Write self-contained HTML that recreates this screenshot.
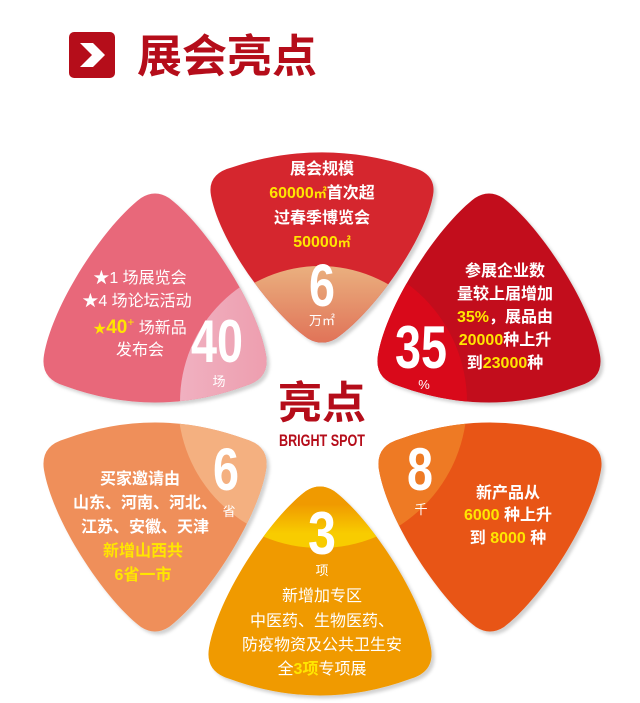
<!DOCTYPE html>
<html><head><meta charset="utf-8">
<style>
html,body{margin:0;padding:0;background:#fff;}
svg{display:block;}
text{font-family:"Liberation Sans","Noto Sans CJK SC",sans-serif;text-anchor:middle;fill:#fff;}
.t{font-size:16px;font-weight:bold;}
.y{fill:#ffe600;}
.big{font-family:"Liberation Sans Narrow","Liberation Sans",sans-serif;font-weight:bold;font-size:60px;}
.u{font-size:13px;}
</style></head>
<body>
<svg width="640" height="703" viewBox="0 0 640 703" xmlns="http://www.w3.org/2000/svg">
<defs>
<path id="p" d="M -14,5 Q 0,-4 14,5 C 50,32 102,110 111,162 Q 115,186 90,193 Q 0,226 -90,193 Q -115,186 -111,162 C -102,110 -50,32 -14,5 Z"/>
<clipPath id="c1"><use href="#p" transform="translate(322,343) scale(1,-0.91)"/></clipPath>
<clipPath id="c2"><use href="#p" transform="translate(155,193)"/></clipPath>
<clipPath id="c3"><use href="#p" transform="translate(489,193)"/></clipPath>
<clipPath id="c4"><use href="#p" transform="translate(155,632) scale(1,-1)"/></clipPath>
<clipPath id="c5"><use href="#p" transform="translate(490,632) scale(1,-1)"/></clipPath>
<clipPath id="c6"><use href="#p" transform="translate(320,486)"/></clipPath>
<linearGradient id="g1" x1="0" y1="0" x2="0" y2="1"><stop offset="0" stop-color="#eab07f"/><stop offset="0.5" stop-color="#d9443a"/><stop offset="1" stop-color="#d5252f"/></linearGradient>
<linearGradient id="g2" x1="0" y1="0" x2="1" y2="0"><stop offset="0" stop-color="#f0b0c0"/><stop offset="1" stop-color="#e8788a"/></linearGradient>
<linearGradient id="g6" x1="0" y1="0" x2="0" y2="1"><stop offset="0.85" stop-color="#f09a00"/><stop offset="0.95" stop-color="#f8cc00"/></linearGradient>
<filter id="sh" x="-10%" y="-10%" width="130%" height="130%"><feDropShadow dx="3" dy="3" stdDeviation="1.5" flood-color="#000" flood-opacity="0.18"/></filter>
</defs>

<!-- header -->
<rect x="69" y="32" width="46" height="46" rx="5" fill="#b50d1a"/>
<path d="M80,43 L93,43 L105,55 L93,67 L80,67 L92,55 Z" fill="#fff"/>
<text x="227" y="72" style="font-size:45px;font-weight:bold;fill:#b50d1a;">展会亮点</text>

<!-- petals -->
<g filter="url(#sh)">
<use href="#p" transform="translate(322,343) scale(1,-0.91)" fill="#d5252f"/>
<use href="#p" transform="translate(155,193)" fill="#e8687a"/>
<use href="#p" transform="translate(489,193)" fill="#c20f1c"/>
<use href="#p" transform="translate(155,632) scale(1,-1)" fill="#ef8f5a"/>
<use href="#p" transform="translate(490,632) scale(1,-1)" fill="#e85516"/>
<use href="#p" transform="translate(320,486)" fill="#f09a00"/>
</g>
<g clip-path="url(#c1)"><circle cx="320" cy="402" r="136" fill="url(#g1)"/></g>
<g clip-path="url(#c2)"><circle cx="320" cy="402" r="140" fill="url(#g2)"/></g>
<g clip-path="url(#c3)"><circle cx="320" cy="402" r="147" fill="#d9091a"/></g>
<g clip-path="url(#c4)"><circle cx="320" cy="402" r="142" fill="#f4b080"/></g>
<g clip-path="url(#c5)"><circle cx="320" cy="402" r="147" fill="#ee7a24"/></g>
<g clip-path="url(#c6)"><circle cx="320" cy="402" r="146" fill="url(#g6)"/></g>

<!-- center -->
<text x="322" y="418" style="font-size:44px;font-weight:bold;fill:#b50d1a;">亮点</text>
<text x="322" y="446" textLength="86" lengthAdjust="spacingAndGlyphs" style="font-size:17px;font-weight:bold;fill:#b50d1a;">BRIGHT SPOT</text>

<!-- top -->
<text class="t" x="322" y="174">展会规模</text>
<text class="t" x="322" y="198"><tspan class="y">60000</tspan><tspan class="y" style="font-size:13px;">㎡</tspan>首次超</text>
<text class="t" x="322" y="223">过春季博览会</text>
<text class="t y" x="322" y="247">50000<tspan style="font-size:13px;">㎡</tspan></text>
<text class="big" x="322" y="306" textLength="26" lengthAdjust="spacingAndGlyphs">6</text>
<text class="u" x="322" y="325">万㎡</text>

<!-- top-left -->
<text class="t" x="140" y="283" style="font-weight:normal">★1 场展览会</text>
<text class="t" x="137" y="306" style="font-weight:normal">★4 场论坛活动</text>
<text class="t" x="140" y="333" style="font-weight:normal"><tspan class="y" style="font-size:13px">★</tspan><tspan class="y" style="font-weight:bold;font-size:19px">40</tspan><tspan class="y" dy="-7" style="font-size:12px">+</tspan><tspan dy="7"> 场新品</tspan></text>
<text class="t" x="140" y="355" style="font-weight:normal">发布会</text>
<text class="big" x="217" y="362" textLength="52" lengthAdjust="spacingAndGlyphs">40</text>
<text class="u" x="219" y="386">场</text>

<!-- top-right -->
<text class="t" x="505" y="276">参展企业数</text>
<text class="t" x="505" y="299">量较上届增加</text>
<text class="t" x="505" y="322"><tspan class="y">35%</tspan>，展品由</text>
<text class="t" x="505" y="345"><tspan class="y">20000</tspan>种上升</text>
<text class="t" x="505" y="368">到<tspan class="y">23000</tspan>种</text>
<text class="big" x="421" y="368" textLength="52" lengthAdjust="spacingAndGlyphs">35</text>
<text class="u" x="424" y="389">%</text>

<!-- bottom-left -->
<text class="t" x="140" y="484">买家邀请由</text>
<text class="t" x="145" y="508">山东、河南、河北、</text>
<text class="t" x="145" y="532">江苏、安徽、天津</text>
<text class="t y" x="143" y="556">新增山西共</text>
<text class="t y" x="143" y="580">6省一市</text>
<text class="big" x="226" y="490" textLength="26" lengthAdjust="spacingAndGlyphs">6</text>
<text class="u" x="229" y="516">省</text>

<!-- bottom-right -->
<text class="big" x="420" y="490" textLength="26" lengthAdjust="spacingAndGlyphs">8</text>
<text class="u" x="421" y="514">千</text>
<text class="t" x="508" y="498">新产品从</text>
<text class="t" x="508" y="520"><tspan class="y">6000</tspan> 种上升</text>
<text class="t" x="508" y="543">到 <tspan class="y">8000</tspan> 种</text>

<!-- bottom -->
<text class="big" x="322" y="554" textLength="28" lengthAdjust="spacingAndGlyphs">3</text>
<text class="u" x="322" y="575">项</text>
<text class="t" x="322" y="601" style="font-weight:normal">新增加专区</text>
<text class="t" x="322" y="626" style="font-weight:normal">中医药、生物医药、</text>
<text class="t" x="322" y="650" style="font-weight:normal">防疫物资及公共卫生安</text>
<text class="t" x="322" y="674" style="font-weight:normal">全<tspan class="y" style="font-weight:bold">3项</tspan>专项展</text>
</svg>
</body></html>
